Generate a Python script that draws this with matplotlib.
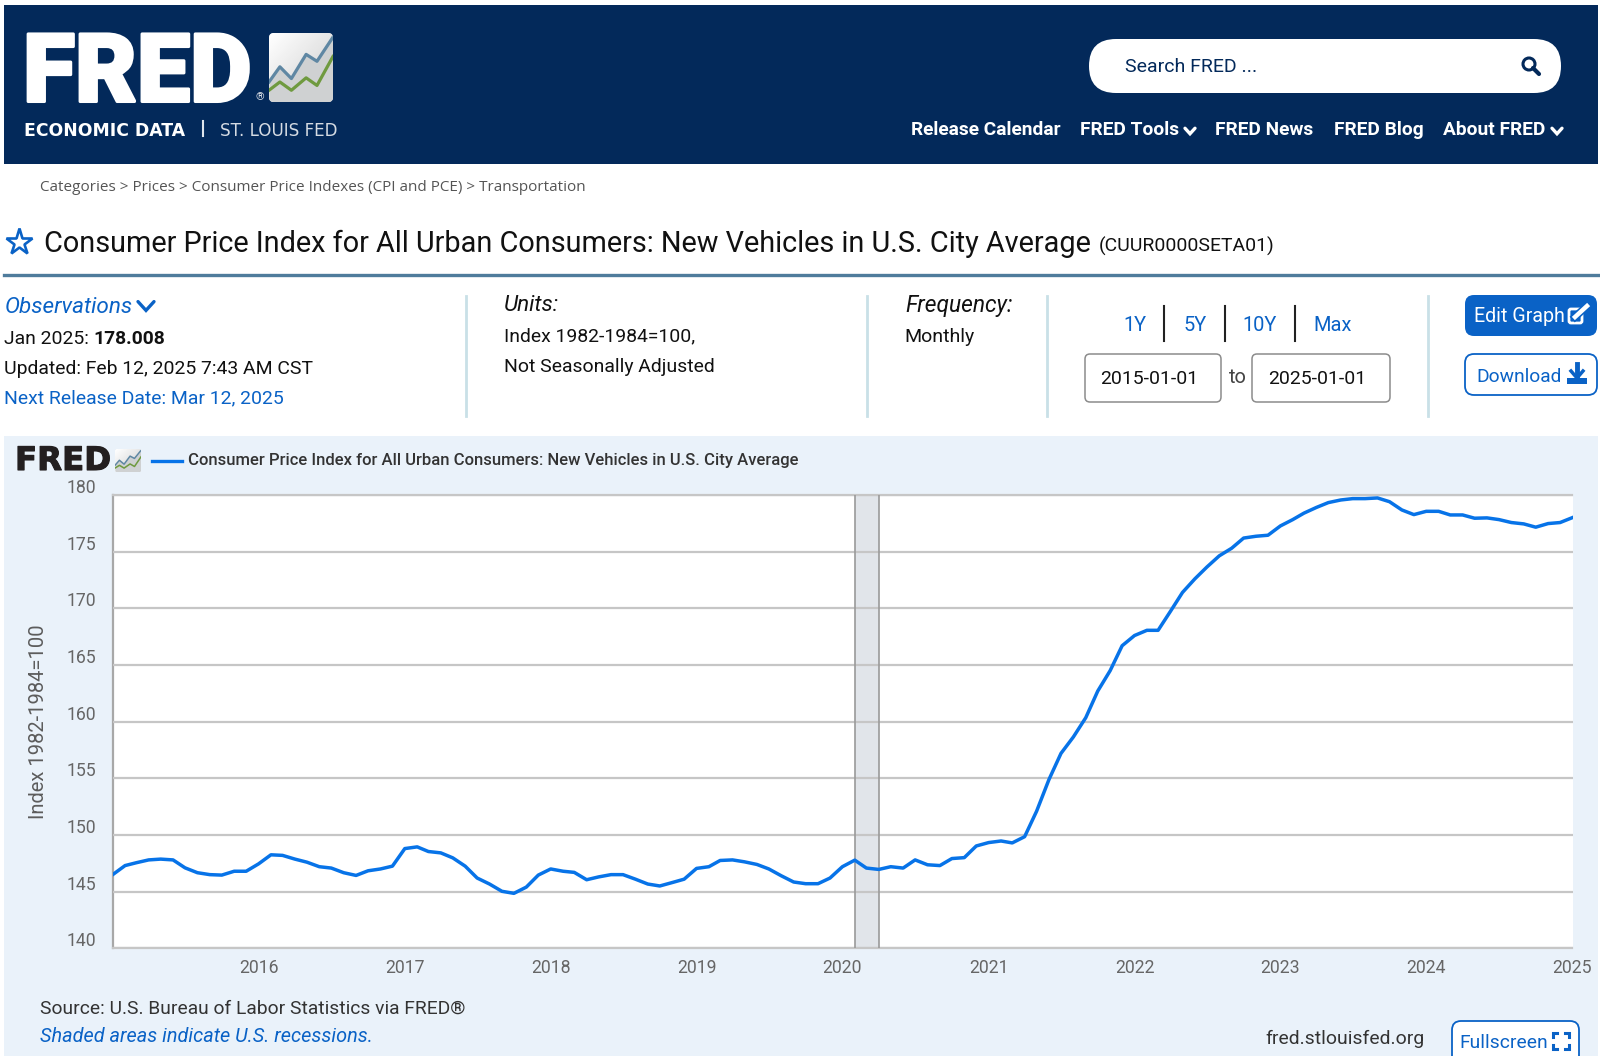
import pandas as pd
import numpy as np
import matplotlib
matplotlib.use("Agg")
import matplotlib.pyplot as plt
import matplotlib.patheffects as pe
from matplotlib.patches import FancyBboxPatch, Rectangle, Circle
from matplotlib.transforms import ScaledTranslation

plt.rcParams['font.family'] = ['Roboto', 'DejaVu Sans']

# monthly index values, one list per year
v2015 = [146.5, 147.3, 147.55, 147.8, 147.87, 147.8, 147.1, 146.67, 146.5, 146.46, 146.8, 146.8]
v2016 = [147.45, 148.25, 148.2, 147.87, 147.6, 147.2, 147.08, 146.67, 146.43, 146.84, 147.0, 147.25]
v2017 = [148.8, 148.95, 148.54, 148.42, 147.98, 147.25, 146.2, 145.67, 145.03, 144.85, 145.4, 146.46]
v2018 = [147.0, 146.8, 146.7, 146.05, 146.3, 146.5, 146.5, 146.1, 145.67, 145.5, 145.8, 146.1]
v2019 = [147.05, 147.2, 147.75, 147.8, 147.63, 147.4, 147.0, 146.4, 145.85, 145.7, 145.7, 146.2]
v2020 = [147.2, 147.78, 147.08, 146.96, 147.2, 147.08, 147.8, 147.37, 147.3, 147.92, 148.0, 149.03]
v2021 = [149.33, 149.47, 149.3, 149.85, 152.1, 154.9, 157.2, 158.65, 160.35, 162.7, 164.5, 166.7]
v2022 = [167.6, 168.06, 168.06, 169.74, 171.4, 172.6, 173.64, 174.63, 175.3, 176.2, 176.36, 176.45]
v2023 = [177.27, 177.83, 178.4, 178.9, 179.33, 179.56, 179.68, 179.68, 179.74, 179.41, 178.68, 178.27]
v2024 = [178.56, 178.56, 178.24, 178.24, 177.95, 177.98, 177.83, 177.57, 177.45, 177.16, 177.48, 177.57]
v2025 = [178.008]

values = v2015 + v2016 + v2017 + v2018 + v2019 + v2020 + v2021 + v2022 + v2023 + v2024 + v2025
dates = pd.date_range("2015-01-01", periods=len(values), freq="MS")

y_ticks = [140, 145, 150, 155, 160, 165, 170, 175, 180]
x_years = list(range(2016, 2026))
rec_start = pd.Timestamp("2020-02-01")
rec_end = pd.Timestamp("2020-04-01")

series_name = "Consumer Price Index for All Urban Consumers: New Vehicles in U.S. City Average"

NAVY = "#03295a"
BLUE = "#0a62c6"
PANEL = "#eaf2fa"
LINE = "#0773e8"

W, H = 1600, 1056
fig = plt.figure(figsize=(W / 100, H / 100), dpi=100, facecolor="white")

# page drawn in pixel coordinates
page = fig.add_axes([0, 0, 1, 1])
page.set_xlim(0, W)
page.set_ylim(H, 0)
page.axis("off")


def txt(x, y, s, px, color="#111111", **kw):
    kw.setdefault("va", "center")
    return page.text(x, y + 1.5, s, fontsize=px * 0.72, color=color, **kw)


def box(x0, y0, x1, y1, r, fc, ec="none", lw=1.0, z=2):
    p = FancyBboxPatch((x0 + r, y0 + r), x1 - x0 - 2 * r, y1 - y0 - 2 * r,
                       boxstyle=f"round,pad={r},rounding_size={r}", fc=fc, ec=ec, lw=lw, zorder=z)
    page.add_patch(p)
    return p


def chevron(x, y, s, color, lw=2.0):
    page.plot([x - s, x, x + s], [y - s * 0.55, y + s * 0.55, y - s * 0.55], color=color, lw=lw,
              solid_capstyle="round", solid_joinstyle="miter", zorder=4)


def logo_tile(x0, y0, x1, y1, r, lw):
    # small chart tile beside the FRED wordmark
    w, h = x1 - x0, y1 - y0
    tile = box(x0, y0, x1, y1, r, "#e4e4e4")
    grad = np.linspace(0, 1, 32)[None, :] * 0.5 + np.linspace(0, 1, 32)[:, None] * 0.5
    im = page.imshow(grad, extent=(x0, x1, y1, y0), aspect="auto", cmap="gray_r", vmin=0, vmax=5, zorder=2.5)
    im.set_clip_path(tile)
    gx = np.array([0, 0.17, 0.35, 0.58, 0.75, 1.0])
    g1 = np.array([0.71, 0.49, 0.66, 0.31, 0.41, 0.06])
    g2 = np.array([0.83, 0.71, 0.83, 0.65, 0.76, 0.34])
    fill = page.fill_between(x0 + gx * w, y0 + g1 * h, y0 + h, color="#cfd1d2", zorder=3, lw=0)
    fill.set_clip_path(tile)
    for g, c in [(g1, "#5f87a3"), (g2, "#6f9a3f")]:
        ln, = page.plot(x0 + gx * w, y0 + g * h, color=c, lw=lw, zorder=4)
        ln.set_clip_path(tile)
    page.set_xlim(0, W)
    page.set_ylim(H, 0)


# header band
page.add_patch(Rectangle((4, 5), 1594, 159, fc=NAVY, ec="none", zorder=1))
big = txt(23, 74, "FRED", 95, "white", weight="black", zorder=3)
big.set_path_effects([pe.withStroke(linewidth=2.2, foreground="white")])
txt(256, 96, "®", 11, "#d8dde5", zorder=3)
logo_tile(269, 33, 333, 102, 5, 2.3)
txt(24, 129, "ECONOMIC DATA", 17.3, "white", weight="bold", family="DejaVu Sans", zorder=3)
page.plot([203, 203], [121, 136], color="#dfe5ec", lw=1.5, zorder=3)
txt(220, 129, "ST. LOUIS FED", 16.7, "#d5dbe3", family="DejaVu Sans", zorder=3)

box(1089, 39, 1561, 93, 27, "white")
txt(1125, 65, "Search FRED ...", 19.5, NAVY, zorder=3)
page.add_patch(Circle((1529, 64), 6, fc="none", ec=NAVY, lw=2.2, zorder=4))
page.plot([1533, 1539], [68, 74], color=NAVY, lw=3, solid_capstyle="round", zorder=4)

nav = [("Release Calendar", 911), ("FRED Tools", 1080), ("FRED News", 1215), ("FRED Blog", 1334), ("About FRED", 1443)]
for label, x in nav:
    txt(x, 128.5, label, 19.1, "white", weight="bold", zorder=3)
chevron(1190, 131, 5, "white", 2.4)
chevron(1557, 131, 5, "white", 2.4)

# breadcrumb and title
txt(40, 186, "Categories > Prices > Consumer Price Indexes (CPI and PCE) > Transportation", 15.2, "#555555", family="Open Sans")
page.plot([18.7], [241.5], marker="*", ms=20, mfc="none", mec=BLUE, mew=1.9, zorder=3)
txt(44, 242.5, series_name, 28.9, "#111111")
txt(1099, 244.5, "(CUUR0000SETA01)", 19.35, "#111111")
page.plot([4, 1598], [274.5, 274.5], color="#4f7c9c", lw=2.4, zorder=2)

# notes row
txt(5, 306, "Observations", 22.5, BLUE, style="italic")
chevron(146, 306, 8, BLUE, 2.4)
txt(4, 338, "Jan 2025: ", 19.4)
txt(93, 338, "178.008", 19.3, weight="bold")
txt(4, 368, "Updated: Feb 12, 2025 7:43 AM CST", 19.4)
txt(4, 397, "Next Release Date: Mar 12, 2025", 19.4, BLUE)
for x in [466, 867, 1047, 1428]:
    page.plot([x, x], [296, 416], color="#c9e0e7", lw=2, zorder=2)
txt(504, 304, "Units:", 22.5, style="italic")
txt(503.5, 335, "Index 1982-1984=100,", 19.4)
txt(503.5, 366, "Not Seasonally Adjusted", 19.4)
txt(905, 304, "Frequency:", 22.8, style="italic")
txt(904.5, 336, "Monthly", 19.5)

for label, x in [("1Y", 1135), ("5Y", 1195), ("10Y", 1260), ("Max", 1333)]:
    txt(x, 324, label, 20, BLUE, ha="center")
for x in [1164, 1224.5, 1295]:
    page.plot([x, x], [306, 341], color="#222222", lw=1.5, zorder=2)
box(1085, 354, 1221, 402, 5, "white", "#8c8c8c", 1.1)
box(1252, 354, 1390, 402, 5, "white", "#8c8c8c", 1.1)
txt(1100, 377, "2015-01-01", 19.4, zorder=3)
txt(1268, 377, "2025-01-01", 19.4, zorder=3)
txt(1238, 376, "to", 20, "#444444", ha="center")

box(1465, 295, 1597, 336, 9, BLUE)
txt(1473.5, 315, "Edit Graph", 19.6, "white", zorder=3)
page.add_patch(FancyBboxPatch((1569, 309), 13, 14, boxstyle="round,pad=0,rounding_size=2", fc="none", ec="white", lw=2, zorder=4))
page.plot([1575, 1587], [317, 306], color=BLUE, lw=5.5, zorder=5)
page.plot([1575, 1587], [317, 306], color="white", lw=3.2, zorder=6)
box(1465, 354, 1597, 395, 9, "white", BLUE, 1.3)
txt(1476, 375, "Download", 19.2, BLUE, zorder=3)
page.plot([1577, 1577], [364, 375], color=BLUE, lw=3.5, zorder=4)
page.plot([1571, 1577, 1583], [371, 378, 371], color=BLUE, lw=2.5, zorder=4)
page.add_patch(Rectangle((1567, 378), 20, 5.5, fc=BLUE, ec="none", zorder=3.5))

# chart panel
page.add_patch(Rectangle((4, 436), 1594, 620, fc=PANEL, ec="none", zorder=1))
mini = txt(15, 460, "FRED", 32.4, "#231f20", weight="bold", family="DejaVu Sans", zorder=3)
mini.set_path_effects([pe.withStroke(linewidth=0.8, foreground="#231f20")])
logo_tile(115, 449, 141, 472, 2, 1.1)
page.plot([152, 182], [461, 461], color=LINE, lw=2.4, zorder=3)
txt(188, 459.5, series_name, 16.65, "#333333", weight="medium", zorder=3)
txt(40, 1007, "Source: U.S. Bureau of Labor Statistics via FRED®", 19.3, "#333333", zorder=3)
txt(40, 1035, "Shaded areas indicate U.S. recessions.", 19.9, BLUE, style="italic", zorder=3)
txt(1265, 1037, "fred.stlouisfed.org", 19.4, "#333333", zorder=3)
box(1452, 1021, 1579, 1070, 9, "white", BLUE, 1.3)
txt(1459, 1041, "Fullscreen", 19.3, BLUE, zorder=3)
for cx, cy, dx, dy in [(1553, 1033, 1, 1), (1569, 1033, -1, 1), (1553, 1049, 1, -1), (1569, 1049, -1, -1)]:
    page.plot([cx + 4 * dx, cx, cx], [cy, cy, cy + 4 * dy], color=BLUE, lw=2.2, zorder=4, solid_joinstyle="miter")

# the chart itself
left, right, top, bottom = 112.7, 1572.5, 495, 948.3
ax = fig.add_axes([left / W, 1 - bottom / H, (right - left) / W, (bottom - top) / H], facecolor="white")
ax.plot(dates, values, color=LINE, lw=2.5, zorder=4, solid_joinstyle="round")
ax.axvspan(rec_start, rec_end, facecolor="#e1e5ea", edgecolor="none", zorder=1)
ax.axvline(rec_start, color="#9a9a9a", lw=1.2, zorder=3)
ax.axvline(rec_end, color="#9a9a9a", lw=1.2, zorder=3)
ax.set_xlim(pd.Timestamp("2015-01-01"), pd.Timestamp("2025-01-01"))
ax.set_ylim(140, 180)
ax.set_yticks(y_ticks)
ax.set_xticks([pd.Timestamp(f"{y}-01-01") for y in x_years])
ax.set_xticklabels([str(y) for y in x_years])
ax.grid(True, axis="y", color="#c6c6c6", lw=1.6, zorder=2)
ax.set_axisbelow(False)
for name, sp in ax.spines.items():
    sp.set_color("#c6c6c6")
    sp.set_linewidth(1.6)
ax.spines["left"].set_color("#a8a8a8")
ax.spines["right"].set_visible(False)
ax.tick_params(axis="both", length=0, labelsize=12.7, labelcolor="#666666")
ax.tick_params(axis="y", pad=12)
ax.tick_params(axis="x", pad=8)
shift = ScaledTranslation(0, 6.4 / 72, fig.dpi_scale_trans)
for lab in ax.get_yticklabels():
    lab.set_transform(lab.get_transform() + shift)
page.text(39, 722, "Index 1982-1984=100", fontsize=14.5, color="#5c5c5c", rotation=90, va="center", ha="center", zorder=3)

fig.savefig("out.png", dpi=100, facecolor="white")
